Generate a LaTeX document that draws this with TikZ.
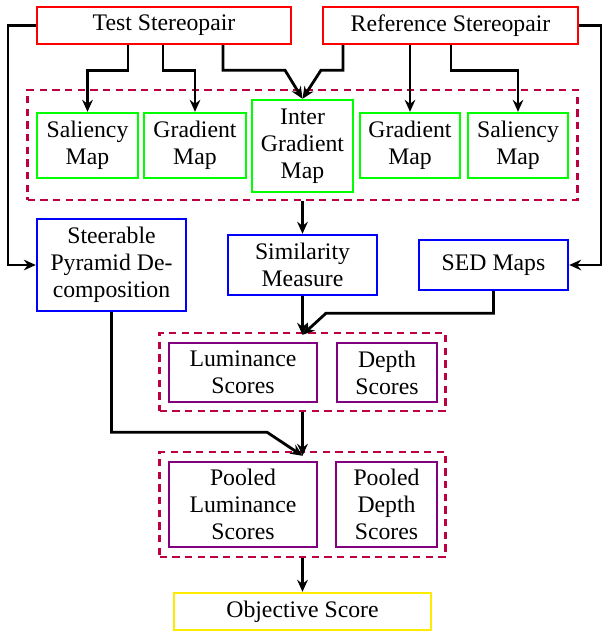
\documentclass[tikz,border=0pt]{standalone}
\usepackage{fontspec}
\newfontfamily\timesf{Liberation Serif}
\usetikzlibrary{arrows.meta}
\definecolor{grpcol}{rgb}{0.75,0,0.25}
\definecolor{boxviolet}{rgb}{0.5,0,0.5}
\definecolor{ylw}{rgb}{1,0.92,0}
\begin{document}
\begin{tikzpicture}[x=0.75pt,y=-0.75pt,
  base/.style={draw,line width=1.8pt,fill=white,inner sep=0pt,align=center,
    font=\timesf\fontsize{17.8}{20.3}\selectfont},
  sz/.style 2 args={minimum width=#1*0.75pt,minimum height=#2*0.75pt},
  redbox/.style={base,draw=red},
  greenbox/.style={base,draw=green},
  bluebox/.style={base,draw=blue},
  violetbox/.style={base,draw=boxviolet},
  yellowbox/.style={base,draw=ylw},
  grp/.style={draw=grpcol,line width=1.8pt,dash pattern=on 5.5pt off 4pt,inner sep=0pt},
  arr/.style={line width=2.1pt,-{Stealth[length=9pt,width=8pt,inset=3pt]}}]
\useasboundingbox (0,0) rectangle (603,633);

% groups
\node[grp,sz={550}{110}] (grp1) at (302.5,145) {};
\node[grp,sz={286}{78}] (grp2) at (302.5,372) {};
\node[grp,sz={286}{105}] (grp3) at (302.5,504.5) {};

% top
\node[redbox,sz={254}{37}] (test) at (164,25.5) {Test Stereopair};
\node[redbox,sz={255}{37}] (ref) at (450.5,25.5) {Reference Stereopair};

% green
\node[greenbox,sz={101}{65}] (sal1) at (87.5,145.5) {Saliency\\Map};
\node[greenbox,sz={102}{65}] (grad1) at (195,145.5) {Gradient\\Map};
\node[greenbox,sz={101}{92}] (inter) at (302.5,146) {Inter\\Gradient\\Map};
\node[greenbox,sz={100}{65}] (grad2) at (410,145.5) {Gradient\\Map};
\node[greenbox,sz={100}{65}] (sal2) at (518,145.5) {Saliency\\Map};

% blue
\node[bluebox,sz={149}{92}] (steer) at (111.5,265) {Steerable\\Pyramid De-\\composition};
\node[bluebox,sz={149}{60}] (sim) at (302.5,265) {Similarity\\Measure};
\node[bluebox,sz={149}{50}] (sed) at (493.5,265) {SED Maps};

% violet
\node[violetbox,sz={148}{59}] (lum) at (243,372.5) {Luminance\\Scores};
\node[violetbox,sz={100}{59}] (dep) at (387,372.5) {Depth\\Scores};
\node[violetbox,sz={148}{85}] (plum) at (243,504.5) {Pooled\\Luminance\\Scores};
\node[violetbox,sz={101}{85}] (pdep) at (386.5,504.5) {Pooled\\Depth\\Scores};

% yellow
\node[yellowbox,sz={257}{37}] (obj) at (302.5,611.5) {Objective Score};

% side paths
\coordinate (lt) at (8,25.5);
\coordinate (rt) at (601,25.5);
\draw[arr] (test.west) -- (lt) |- (steer.west);
\draw[arr] (ref.east) -- (rt) |- (sed.east);

% test stereopair outputs
\draw[arr] ([xshift=-36*0.75pt]test.south) -- ++(0,25) -| (sal1.north);
\draw[arr] ([xshift=-1*0.75pt]test.south) -- ++(0,25) -| (grad1.north);
\draw[arr] ([xshift=59*0.75pt]test.south) -- ++(0,25) -- ++(62,0) -- (inter.north);

% reference stereopair outputs
\draw[arr] ([xshift=-107.5*0.75pt]ref.south) -- ++(0,25) -- ++(-22,0) -- (inter.north);
\draw[arr] (ref.south -| grad2.north) -- (grad2.north);
\draw[arr] ([xshift=0.5*0.75pt]ref.south) -- ++(0,25) -| (sal2.north);

% middle
\draw[arr] (grp1.south) -- (sim.north);
\draw[arr] (sim.south) -- ([yshift=-3*0.75pt]grp2.north);
\draw[arr] (sed.south) -- ++(0,22) -- ++(-167.5,0) -- ([yshift=-3*0.75pt]grp2.north);
\draw[arr] (grp2.south) -- ([yshift=-5*0.75pt]grp3.north);
\draw[arr] (steer.south) -- ++(0,120) -- ++(155.5,0) -- ([yshift=-5*0.75pt]grp3.north);
\draw[arr] (grp3.south) -- (obj.north);
\end{tikzpicture}
\end{document}
